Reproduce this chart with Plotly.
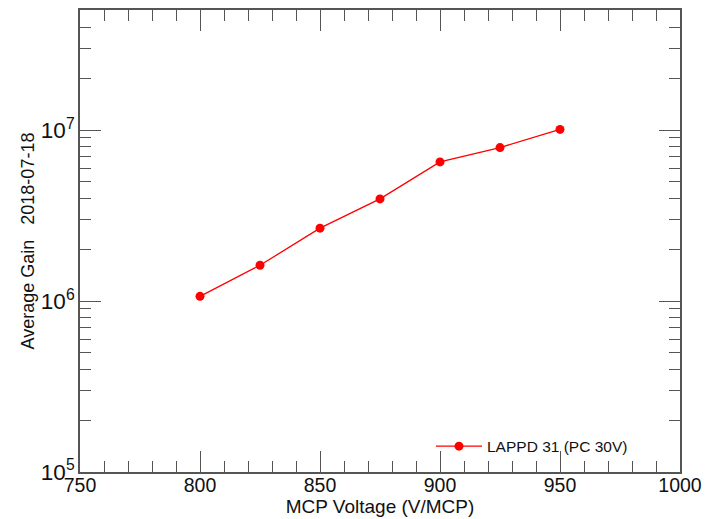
import plotly.graph_objects as go

# MCP voltage scan of the average gain
voltage = [800, 825, 850, 875, 900, 925, 950]
gain = [1.066e6, 1.62e6, 2.67e6, 3.96e6, 6.52e6, 7.91e6, 1.01e7]
series_name = "LAPPD 31 (PC 30V)"

x_title = "MCP Voltage (V/MCP)"
y_title = "Average Gain   2018-07-18"

font_family = "Liberation Sans, Arial, Helvetica, sans-serif"
axis_color = "#555555"

fig = go.Figure()
fig.add_trace(go.Scatter(
    x=voltage, y=gain, mode="lines+markers", name=series_name,
    line=dict(color="#ff0000", width=1.3),
    marker=dict(color="#ff0000", size=9),
))

common = dict(
    showgrid=False, zeroline=False, automargin=False,
    showline=True, linecolor=axis_color, linewidth=1.5,
    mirror="ticks", ticks="inside", ticklen=21, tickwidth=1.3,
    tickcolor=axis_color,
)

fig.update_xaxes(
    range=[750, 1000], dtick=50, tick0=750,
    tickfont=dict(family=font_family, size=19.5, color="#111111"),
    ticklabelstandoff=-5,
    minor=dict(dtick=10, ticks="inside", ticklen=11, tickwidth=1.3,
               tickcolor=axis_color, showgrid=False),
    title=dict(text=x_title, font=dict(family=font_family, size=19, color="#111111"),
               standoff=0),
    **common,
)
fig.update_yaxes(
    type="log", range=[5, 7.703], dtick=1, exponentformat="power",
    tickfont=dict(family=font_family, size=18, color="#111111"),
    minor=dict(dtick="D1", ticks="inside", ticklen=11, tickwidth=1.3,
               tickcolor=axis_color, showgrid=False),
    title=dict(text=y_title, font=dict(family=font_family, size=18, color="#111111"),
               standoff=2),
    **common,
)

fig.update_layout(
    width=718, height=519,
    margin=dict(l=80, r=38, t=10, b=47),
    plot_bgcolor="white", paper_bgcolor="white",
    font=dict(family=font_family, color="#111111"),
    showlegend=True,
    legend=dict(
        x=0.585, y=0.055, xanchor="left", yanchor="middle",
        bgcolor="rgba(0,0,0,0)", borderwidth=0,
        font=dict(family=font_family, size=15.5, color="#111111"),
        itemwidth=46,
    ),
)

fig.write_html("out.html")
